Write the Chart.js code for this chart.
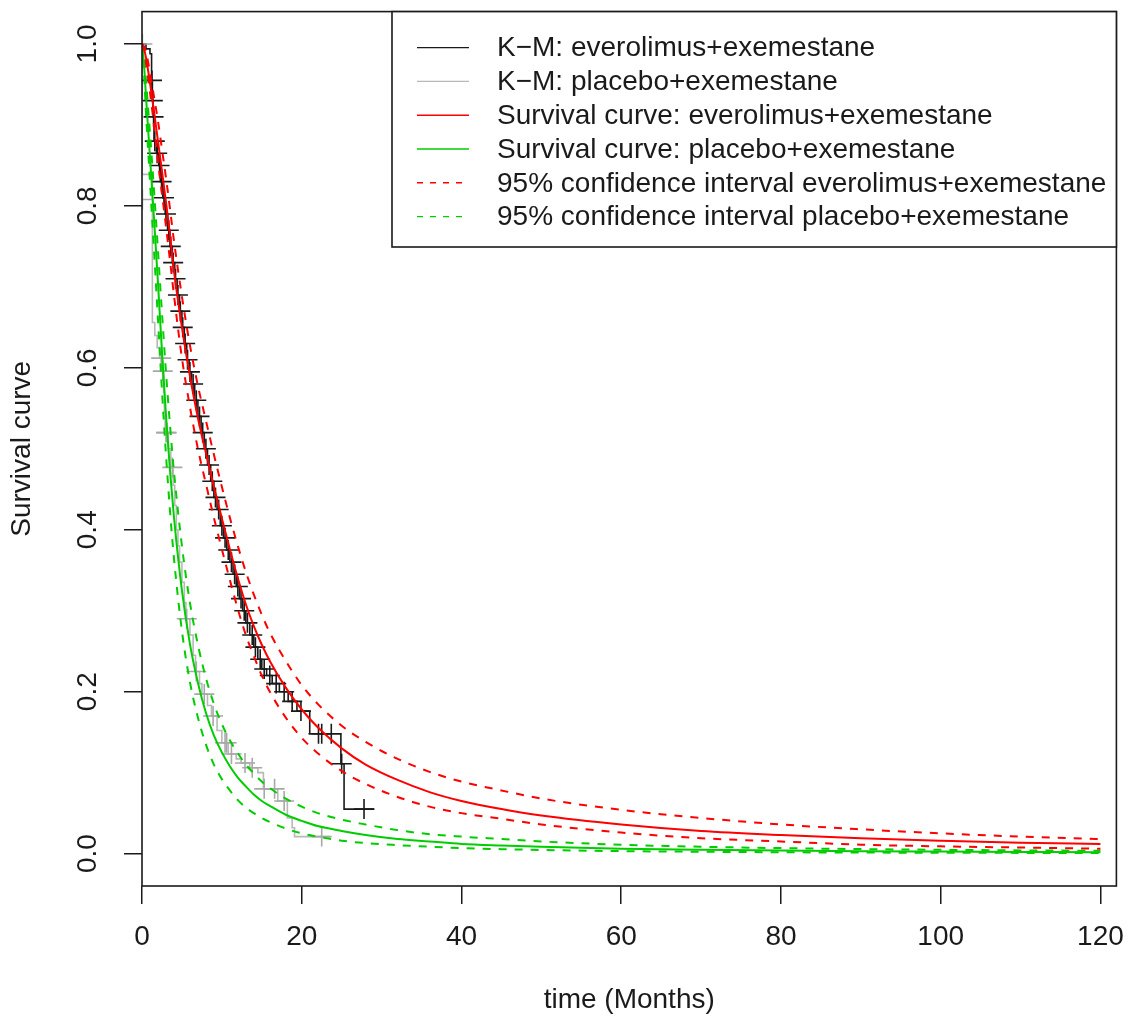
<!DOCTYPE html>
<html lang="en">
<head>
<meta charset="UTF-8">
<title>Survival curves</title>
<script src="https://cdn.jsdelivr.net/npm/chart.js"></script>
<style>
  html, body { margin: 0; padding: 0; background: #fff; }
  #wrap { width: 1128px; height: 1018px; }
</style>
</head>
<body>
<div id="wrap"><canvas id="survChart" width="1128" height="1018"></canvas></div>
<script>
// axis ticks
const xTicks = [0, 20, 40, 60, 80, 100, 120];
const yTicks = [0, 0.2, 0.4, 0.6, 0.8, 1.0];

// fitted curves: common time grid (months)
const fitTime = [0, 0.25, 0.5, 1, 1.5, 2, 2.5, 3, 3.5, 4, 5, 6, 7, 8, 9, 10, 11, 12, 13, 14, 15, 16, 18, 20,
  22, 25, 28, 32, 36, 40, 45, 50, 60, 70, 80, 90, 100, 110, 120];
const fitEve = [1, 0.994, 0.983, 0.952, 0.917, 0.88, 0.843, 0.805, 0.765, 0.72, 0.65, 0.59, 0.538, 0.495, 0.453,
  0.414, 0.376, 0.34, 0.308, 0.281, 0.258, 0.238, 0.205, 0.178, 0.156, 0.13, 0.11, 0.091, 0.076, 0.065, 0.055,
  0.047, 0.036, 0.028, 0.023, 0.019, 0.016, 0.0135, 0.012];
const fitEveHi = [1, 0.997, 0.99, 0.965, 0.935, 0.905, 0.87, 0.835, 0.797, 0.757, 0.688, 0.628, 0.578, 0.535,
  0.493, 0.453, 0.415, 0.38, 0.348, 0.32, 0.295, 0.273, 0.238, 0.208, 0.185, 0.158, 0.138, 0.117, 0.101, 0.089,
  0.078, 0.068, 0.054, 0.044, 0.036, 0.03, 0.025, 0.021, 0.018];
const fitEveLo = [1, 0.99, 0.976, 0.94, 0.9, 0.855, 0.815, 0.775, 0.733, 0.69, 0.612, 0.552, 0.5, 0.457, 0.415,
  0.376, 0.338, 0.302, 0.27, 0.244, 0.22, 0.2, 0.168, 0.143, 0.124, 0.102, 0.086, 0.07, 0.058, 0.05, 0.043,
  0.036, 0.026, 0.019, 0.015, 0.011, 0.009, 0.0075, 0.006];
const fitPla = [1, 0.975, 0.935, 0.86, 0.785, 0.705, 0.62, 0.542, 0.474, 0.416, 0.325, 0.259, 0.211, 0.174,
  0.146, 0.125, 0.108, 0.094, 0.083, 0.073, 0.065, 0.059, 0.048, 0.0405, 0.034, 0.028, 0.023, 0.018, 0.015,
  0.012, 0.01, 0.0084, 0.0061, 0.0047, 0.0037, 0.003, 0.0025, 0.0021, 0.0018];
const fitPlaHi = [1, 0.985, 0.955, 0.89, 0.82, 0.745, 0.668, 0.595, 0.53, 0.472, 0.38, 0.31, 0.258, 0.217, 0.185,
  0.16, 0.14, 0.124, 0.11, 0.099, 0.089, 0.081, 0.068, 0.058, 0.05, 0.042, 0.036, 0.029, 0.024, 0.021, 0.018,
  0.015, 0.011, 0.0085, 0.0068, 0.0056, 0.0047, 0.004, 0.0035];
const fitPlaLo = [1, 0.965, 0.915, 0.83, 0.745, 0.66, 0.572, 0.493, 0.424, 0.365, 0.275, 0.212, 0.168, 0.135,
  0.11, 0.092, 0.078, 0.066, 0.057, 0.05, 0.044, 0.039, 0.031, 0.025, 0.021, 0.016, 0.013, 0.0105, 0.0085,
  0.0068, 0.0055, 0.0045, 0.0031, 0.0023, 0.0017, 0.0013, 0.0011, 0.0009, 0.0008];

// Kaplan-Meier, everolimus + exemestane (step vertices)
const kmEveTime = [0, 0.5, 1.0, 1.2, 1.3, 1.4, 1.5, 1.8, 2.1, 2.3, 2.6, 2.9, 3.2, 3.5, 3.8, 4.1, 4.4, 4.7, 5.0,
  5.3, 5.6, 5.9, 6.2, 6.6, 7.0, 7.4, 7.8, 8.2, 8.6, 9.0, 9.4, 9.8, 10.2, 10.6, 11.0, 11.4, 11.8, 12.2, 12.6,
  13.0, 13.5, 14.0, 14.5, 15.0, 15.6, 16.3, 17.2, 18.3, 19.4, 21.0, 24.9, 25.3, 29.1];
const kmEveSurv = [1, 0.994, 0.988, 0.955, 0.93, 0.91, 0.88, 0.865, 0.85, 0.83, 0.81, 0.79, 0.77, 0.75, 0.73,
  0.71, 0.69, 0.67, 0.65, 0.63, 0.61, 0.595, 0.58, 0.56, 0.54, 0.52, 0.5, 0.48, 0.46, 0.44, 0.425, 0.405, 0.39,
  0.375, 0.36, 0.345, 0.33, 0.315, 0.3, 0.285, 0.27, 0.255, 0.24, 0.228, 0.22, 0.21, 0.2, 0.188, 0.176, 0.148,
  0.111, 0.055, 0.055];
const censEveTime = [1.25, 1.35, 1.45, 1.6, 1.9, 2.2, 2.45, 2.75, 3.0, 3.35, 3.6, 3.9, 4.2, 4.5, 4.8, 5.1, 5.4,
  5.7, 6.0, 6.4, 6.8, 7.2, 7.6, 8.0, 8.4, 8.8, 9.2, 9.6, 10.0, 10.4, 10.8, 11.2, 11.6, 12.0, 12.4, 12.8, 13.2,
  13.8, 14.2, 14.8, 15.3, 16.0, 16.8, 17.8, 18.8, 19.9, 22.1, 22.5, 23.7, 25.0, 27.8];
const censEveSurv = [0.955, 0.93, 0.91, 0.88, 0.865, 0.85, 0.83, 0.81, 0.79, 0.77, 0.75, 0.73, 0.71, 0.69, 0.67,
  0.65, 0.63, 0.61, 0.595, 0.58, 0.56, 0.54, 0.52, 0.5, 0.48, 0.46, 0.44, 0.425, 0.405, 0.39, 0.375, 0.36,
  0.345, 0.33, 0.315, 0.3, 0.285, 0.27, 0.255, 0.24, 0.228, 0.22, 0.21, 0.2, 0.188, 0.176, 0.148, 0.148, 0.148,
  0.111, 0.055];

// Kaplan-Meier, placebo + exemestane
const kmPlaTime = [0, 0.02, 1.3, 1.6, 1.9, 2.2, 2.5, 2.7, 2.8, 2.9, 3.3, 3.6, 3.9, 4.1, 4.3, 4.5, 4.7, 5.0, 5.3,
  5.5, 6.0, 6.4, 6.7, 7.2, 7.5, 8.2, 8.7, 9.4, 10.0, 10.8, 11.8, 12.4, 13.5, 14.5, 15.2, 17.0, 18.2, 18.8,
  19.1, 23.5];
const kmPlaSurv = [1, 0.839, 0.656, 0.64, 0.625, 0.612, 0.596, 0.57, 0.545, 0.52, 0.5, 0.477, 0.455, 0.43, 0.4,
  0.38, 0.36, 0.335, 0.31, 0.29, 0.27, 0.245, 0.225, 0.21, 0.197, 0.183, 0.17, 0.152, 0.137, 0.123, 0.117,
  0.112, 0.106, 0.1, 0.08, 0.065, 0.044, 0.032, 0.021, 0.021];
const censPlaTime = [0.05, 0.05, 2.4, 2.6, 3.0, 3.1, 3.8, 5.6, 6.8, 7.8, 8.9, 10.4, 10.6, 11.2, 12.9, 13.8, 15.3,
  16.6, 17.8, 22.5];
const censPlaSurv = [1.0, 0.808, 0.612, 0.596, 0.52, 0.52, 0.477, 0.29, 0.225, 0.197, 0.17, 0.137, 0.137, 0.123,
  0.112, 0.106, 0.08, 0.08, 0.065, 0.021];

const pts = (xs, ys) => xs.map((t, i) => ({ x: t, y: ys[i] }));

const FONT = '28px "Liberation Sans", Arial, sans-serif';
const INK = '#1a1a1a';
const RED = '#ff0000';
const GREEN = '#00cd00';
const GREY = '#b8b8b8';

const curve = (label, xs, ys, color, dash, legend) => ({
    label, legendText: legend, data: pts(xs, ys), showLine: true,
    borderColor: color, borderWidth: 2, borderDash: dash, pointRadius: 0,
    cubicInterpolationMode: 'monotone', clip: 0, order: 1
});

const datasets = [
    { label: 'km-eve', legendText: 'K\u2212M: everolimus+exemestane', data: pts(kmEveTime, kmEveSurv),
      showLine: true, stepped: true, borderColor: INK, borderWidth: 1.6, pointRadius: 0, clip: 0, order: 3 },
    { label: 'km-pla', legendText: 'K\u2212M: placebo+exemestane', data: pts(kmPlaTime, kmPlaSurv),
      showLine: true, stepped: true, borderColor: GREY, borderWidth: 1.6, pointRadius: 0, clip: 0, order: 3 },
    curve('fit-eve', fitTime, fitEve, RED, [], 'Survival curve: everolimus+exemestane'),
    curve('fit-pla', fitTime, fitPla, GREEN, [], 'Survival curve: placebo+exemestane'),
    curve('ci-eve-hi', fitTime, fitEveHi, RED, [8, 8], '95% confidence interval everolimus+exemestane'),
    curve('ci-eve-lo', fitTime, fitEveLo, RED, [8, 8]),
    curve('ci-pla-hi', fitTime, fitPlaHi, GREEN, [8, 8], '95% confidence interval placebo+exemestane'),
    curve('ci-pla-lo', fitTime, fitPlaLo, GREEN, [8, 8]),
    { label: 'cens-eve', data: pts(censEveTime, censEveSurv), showLine: false, pointStyle: 'cross',
      pointRadius: 10, pointBorderColor: INK, pointBorderWidth: 1.6, clip: 0, order: 2 },
    { label: 'cens-pla', data: pts(censPlaTime, censPlaSurv), showLine: false, pointStyle: 'cross',
      pointRadius: 10, pointBorderColor: '#a8a8a8', pointBorderWidth: 1.6, clip: 0, order: 2 }
];

// frame, tick labels, axis titles and the boxed legend, drawn base-graphics style
const basePlot = {
    id: 'basePlot',
    afterDraw(chart) {
        const { ctx, chartArea: a, scales: { x, y } } = chart;
        ctx.save();
        ctx.strokeStyle = INK;
        ctx.lineWidth = 1.6;
        ctx.strokeRect(a.left, a.top, a.right - a.left, a.bottom - a.top);

        ctx.fillStyle = INK;
        ctx.font = FONT;
        ctx.textAlign = 'center';
        ctx.textBaseline = 'middle';
        xTicks.forEach(v => ctx.fillText(String(v), x.getPixelForValue(v), a.bottom + 51));
        yTicks.forEach(v => {
            ctx.save();
            ctx.translate(a.left - 54, y.getPixelForValue(v));
            ctx.rotate(-Math.PI / 2);
            ctx.fillText(v.toFixed(1), 0, 0);
            ctx.restore();
        });
        ctx.fillText('time (Months)', (a.left + a.right) / 2, a.bottom + 114);
        ctx.save();
        ctx.translate(a.left - 120, (a.top + a.bottom) / 2);
        ctx.rotate(-Math.PI / 2);
        ctx.fillText('Survival curve', 0, 0);
        ctx.restore();

        // legend box in the top right corner
        const box = { left: 392, top: a.top, right: a.right, bottom: 247 };
        ctx.fillStyle = '#fff';
        ctx.fillRect(box.left, box.top, box.right - box.left, box.bottom - box.top);
        ctx.strokeStyle = INK;
        ctx.lineWidth = 1.6;
        ctx.strokeRect(box.left, box.top, box.right - box.left, box.bottom - box.top);
        const items = chart.data.datasets.filter(d => d.legendText);
        ctx.textAlign = 'left';
        items.forEach((d, i) => {
            const ly = box.top + 36 + i * 33.8;
            ctx.strokeStyle = d.borderColor;
            ctx.lineWidth = 1.4;
            ctx.setLineDash(d.borderDash && d.borderDash.length ? [6, 7] : []);
            ctx.beginPath();
            ctx.moveTo(417, ly);
            ctx.lineTo(469, ly);
            ctx.stroke();
            ctx.setLineDash([]);
            ctx.fillStyle = INK;
            ctx.fillText(d.legendText, 497, ly + 1);
        });
        ctx.restore();
    }
};

new Chart(document.getElementById('survChart'), {
    type: 'scatter',
    data: { datasets },
    options: {
        responsive: false,
        animation: false,
        devicePixelRatio: 1,
        layout: { padding: { left: 0, right: 8, top: 7, bottom: 0 } },
        plugins: { legend: { display: false }, tooltip: { enabled: false } },
        scales: {
            x: {
                type: 'linear', min: 0, max: 122,
                afterBuildTicks: s => { s.ticks = xTicks.map(v => ({ value: v })); },
                afterFit: s => { s.height = 132; },
                ticks: { display: false },
                grid: { drawOnChartArea: false, tickLength: 18, color: INK, lineWidth: 1.5 },
                border: { display: false }
            },
            y: {
                type: 'linear', min: -0.04, max: 1.04,
                afterBuildTicks: s => { s.ticks = yTicks.map(v => ({ value: v })); },
                afterFit: s => { s.width = 142; },
                ticks: { display: false },
                grid: { drawOnChartArea: false, tickLength: 18, color: INK, lineWidth: 1.5 },
                border: { display: false }
            }
        }
    },
    plugins: [basePlot]
});
</script>
</body>
</html>
